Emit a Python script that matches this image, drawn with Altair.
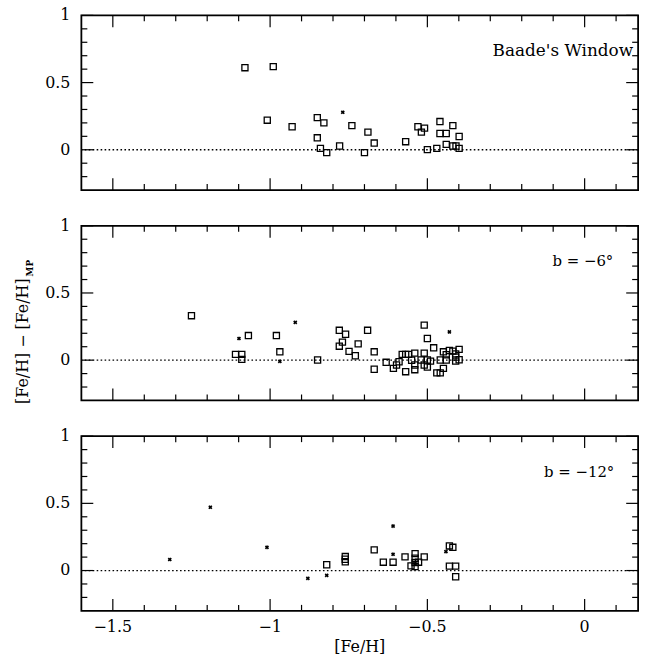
import altair as alt
import pandas as pd

# ---------------- data ----------------
# Panel 1: Baade's Window
bw_sq_x = [-1.080, -0.990, -1.009, -0.930, -0.850, -0.829, -0.850, -0.840, -0.820, -0.779,
           -0.740, -0.700, -0.689, -0.669, -0.569, -0.530, -0.519, -0.509, -0.500, -0.470,
           -0.460, -0.460, -0.440, -0.440, -0.419, -0.419, -0.409, -0.399, -0.399]
bw_sq_y = [0.611, 0.619, 0.220, 0.171, 0.239, 0.200, 0.089, 0.010, -0.021, 0.028,
           0.180, -0.021, 0.131, 0.050, 0.060, 0.171, 0.131, 0.161, 0.001, 0.010,
           0.210, 0.121, 0.121, 0.040, 0.180, 0.028, 0.028, 0.099, 0.010]
bw_cr_x = [-0.769]
bw_cr_y = [0.279]

# Panel 2: b = -6
b6_sq_x = [-1.250, -1.069, -1.110, -1.090, -1.090, -0.980, -0.969, -0.849, -0.780, -0.760,
           -0.770, -0.780, -0.720, -0.749, -0.729, -0.690, -0.669, -0.669, -0.631, -0.608,
           -0.598, -0.590, -0.580, -0.569, -0.560, -0.540, -0.569, -0.550, -0.540, -0.540,
           -0.510, -0.500, -0.510, -0.520, -0.500, -0.510, -0.500, -0.490, -0.480, -0.470,
           -0.459, -0.459, -0.449, -0.449, -0.440, -0.430, -0.419, -0.440, -0.410, -0.410,
           -0.399, -0.399, -0.410]
b6_sq_y = [0.331, 0.183, 0.043, 0.043, 0.006, 0.183, 0.062, 0.001, 0.222, 0.193,
           0.134, 0.104, 0.121, 0.065, 0.033, 0.222, 0.062, -0.068, -0.016, -0.061,
           -0.036, -0.012, 0.043, 0.043, 0.043, 0.052, -0.086, -0.001, -0.036, -0.071,
           0.261, 0.161, 0.052, 0.001, 0.001, -0.036, -0.051, -0.007, 0.092, -0.095,
           -0.095, 0.001, -0.061, 0.062, 0.001, 0.072, 0.067, 0.040, 0.023, -0.007,
           0.080, 0.003, 0.047]
b6_cr_x = [-1.099, -0.969, -0.920, -0.430]
b6_cr_y = [0.161, -0.009, 0.281, 0.210]

# Panel 3: b = -12
b12_sq_x = [-0.820, -0.761, -0.761, -0.761, -0.669, -0.640, -0.609, -0.571, -0.539, -0.539,
            -0.539, -0.552, -0.539, -0.528, -0.510, -0.430, -0.419, -0.430, -0.410, -0.410]
b12_sq_y = [0.043, 0.104, 0.084, 0.065, 0.154, 0.062, 0.062, 0.102, 0.126, 0.092,
            0.060, 0.035, 0.030, 0.062, 0.102, 0.183, 0.173, 0.033, 0.033, -0.046]
b12_cr_x = [-1.319, -1.190, -1.010, -0.880, -0.820, -0.609, -0.609, -0.441, -0.539]
b12_cr_y = [0.082, 0.471, 0.173, -0.058, -0.036, 0.331, 0.121, 0.141, 0.050]

panel_labels = ["Baade's Window", "b = −6°", "b = −12°"]
label_sizes = [17, 15, 15]
label_right = [556, 536, 537]

x_major = [-1.5, -1.0, -0.5, 0.0]
x_major_text = ["−1.5", "−1", "−0.5", "0"]
x_minor = [-1.4, -1.3, -1.2, -1.1, -0.9, -0.8, -0.7, -0.6, -0.4, -0.3, -0.2, -0.1, 0.1]
y_major = [0.0, 0.5, 1.0]
y_major_text = ["0", "0.5", "1"]
y_minor = [-0.2, -0.1, 0.1, 0.2, 0.3, 0.4, 0.6, 0.7, 0.8, 0.9]
x_title = "[Fe/H]"
y_title_main = "[Fe/H] − [Fe/H]"
y_title_sub = "MP"

X_DOMAIN = [-1.6, 0.17]
Y_DOMAIN = [-0.3, 1.0]
W, H = 561, 176
FONT = "DejaVu Serif"
MAJ, MIN = 12, 6

xs = alt.Scale(domain=X_DOMAIN, nice=False, zero=False)
ys = alt.Scale(domain=Y_DOMAIN, nice=False, zero=False)

# tick glyphs as symbol paths (unit = sqrt(size)/2), pointing into the frame
PATH_RIGHT = "M0,0L2,0"   # from left frame inward
PATH_LEFT = "M0,0L-2,0"   # from right frame inward
PATH_DOWN = "M0,0L0,2"    # from top frame inward
PATH_UP = "M0,0L0,-2"     # from bottom frame inward


def make_df(sx, sy, cx, cy):
    return pd.DataFrame({
        "x": list(sx) + list(cx),
        "y": list(sy) + list(cy),
        "kind": ["sq"] * len(sx) + ["cr"] * len(cx),
    })


def tick_layers():
    """Inward ticks on all four sides, positioned through the shared scales."""
    out = []
    for vals, ln in ((y_major, MAJ), (y_minor, MIN)):
        src = alt.Chart(pd.DataFrame({"yt": vals}))
        yy = alt.Y("yt:Q", scale=ys, axis=None)
        for path, xpos in ((PATH_RIGHT, 0), (PATH_LEFT, W)):
            out.append(src.mark_point(shape=path, size=ln * ln, filled=False, color="black",
                                      strokeWidth=1.2, opacity=1)
                       .encode(y=yy, x=alt.value(xpos)))
    for vals, ln in ((x_major, MAJ), (x_minor, MIN)):
        src = alt.Chart(pd.DataFrame({"xt": vals}))
        xx = alt.X("xt:Q", scale=xs, axis=None)
        for path, ypos in ((PATH_UP, H), (PATH_DOWN, 0)):
            out.append(src.mark_point(shape=path, size=ln * ln, filled=False, color="black",
                                      strokeWidth=1.2, opacity=1)
                       .encode(x=xx, y=alt.value(ypos)))
    return out


def label_layers(last):
    out = [alt.Chart(pd.DataFrame({"yl": y_major, "t": y_major_text})).mark_text(
        align="right", baseline="middle", font=FONT, fontSize=16, color="black"
    ).encode(y=alt.Y("yl:Q", scale=ys, axis=None), x=alt.value(-11), text="t:N")]
    if last:
        out.append(alt.Chart(pd.DataFrame({"xl": x_major, "t": x_major_text})).mark_text(
            align="center", baseline="top", font=FONT, fontSize=16, color="black"
        ).encode(x=alt.X("xl:Q", scale=xs, axis=None), y=alt.value(H + 8), text="t:N"))
        out.append(alt.Chart(pd.DataFrame({"t": [x_title]})).mark_text(
            align="center", baseline="middle", font=FONT, fontSize=16, color="black"
        ).encode(x=alt.value(W / 2), y=alt.value(H + 36), text="t:N"))
    return out


def panel(df, label, lab_x, lab_size, last=False, ytitle=False):
    base = alt.Chart(df)
    sq = base.transform_filter(alt.datum.kind == "sq").mark_point(
        shape="square", size=38, strokeWidth=1.3, color="black", filled=False, opacity=1
    ).encode(
        x=alt.X("x:Q", scale=xs, axis=None),
        y=alt.Y("y:Q", scale=ys, axis=None),
    )
    cr = base.transform_filter(alt.datum.kind == "cr").mark_point(
        shape="cross", angle=45, size=18, filled=True, color="black", opacity=1
    ).encode(
        x=alt.X("x:Q", scale=xs, axis=None),
        y=alt.Y("y:Q", scale=ys, axis=None),
    )
    zero = alt.Chart(pd.DataFrame({"z": [0.0]})).mark_rule(
        color="black", strokeDash=[1.6, 2.4], strokeWidth=1.3
    ).encode(y=alt.Y("z:Q", scale=ys, axis=None))
    txt = alt.Chart(pd.DataFrame({"t": [label]})).mark_text(
        align="right", baseline="alphabetic", font=FONT, fontSize=lab_size, color="black"
    ).encode(text="t:N", x=alt.value(lab_x), y=alt.value(41))
    layers = [zero] + tick_layers() + [sq, cr, txt] + label_layers(last)
    if ytitle:
        t1 = alt.Chart(pd.DataFrame({"t": [y_title_main]})).mark_text(
            align="right", baseline="middle", angle=270, font=FONT, fontSize=16, color="black"
        ).encode(text="t:N", x=alt.value(-59), y=alt.value(53))
        t2 = alt.Chart(pd.DataFrame({"t": [y_title_sub]})).mark_text(
            align="left", baseline="middle", angle=270, font=FONT, fontSize=9,
            fontWeight="bold", color="black"
        ).encode(text="t:N", x=alt.value(-51.5), y=alt.value(51))
        layers += [t1, t2]
    return alt.layer(*layers).properties(width=W, height=H)


p1 = panel(make_df(bw_sq_x, bw_sq_y, bw_cr_x, bw_cr_y), panel_labels[0], label_right[0], label_sizes[0])
p2 = panel(make_df(b6_sq_x, b6_sq_y, b6_cr_x, b6_cr_y), panel_labels[1], label_right[1], label_sizes[1],
           ytitle=True)
p3 = panel(make_df(b12_sq_x, b12_sq_y, b12_cr_x, b12_cr_y), panel_labels[2], label_right[2], label_sizes[2],
           last=True)

chart = alt.vconcat(p1, p2, p3, spacing=36, bounds="flush").properties(
    padding={"left": 14, "top": 4, "right": 10, "bottom": 1},
    background="white",
).configure_view(
    stroke="black", strokeWidth=1.8
)

chart.save("out.html", embed_options={"renderer": "svg", "actions": False})
